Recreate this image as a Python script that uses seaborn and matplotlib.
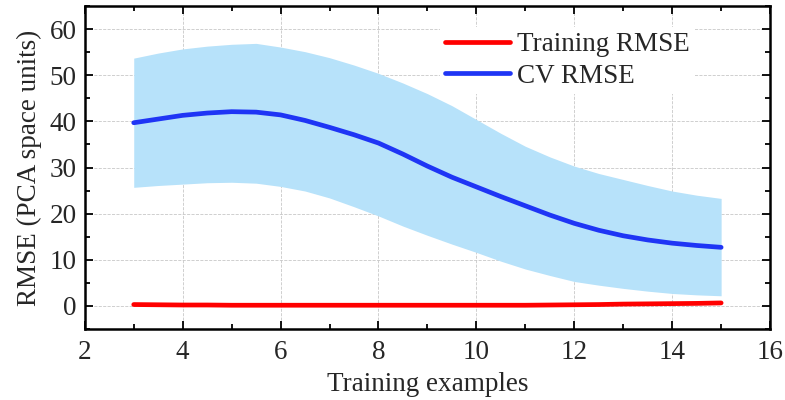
import numpy as np
import pandas as pd
import matplotlib
matplotlib.use("Agg")
import matplotlib.pyplot as plt
from matplotlib.ticker import MultipleLocator
import seaborn as sns

# Learning-curve results per training-set size
train_sizes = [3, 3.5, 4, 4.5, 5, 5.5, 6, 6.5, 7, 7.5, 8, 8.5, 9, 9.5,
               10, 10.5, 11, 11.5, 12, 12.5, 13, 13.5, 14, 14.5, 15]
train_rmse = [0.3, 0.25, 0.2, 0.2, 0.15, 0.15, 0.15, 0.15, 0.15, 0.15, 0.15, 0.15, 0.15, 0.15,
              0.15, 0.15, 0.15, 0.2, 0.25, 0.3, 0.4, 0.45, 0.5, 0.55, 0.65]
cv_rmse = [39.7, 40.5, 41.3, 41.8, 42.1, 42.0, 41.4, 40.2, 38.7, 37.1, 35.3, 32.9, 30.3, 27.9,
           25.8, 23.7, 21.7, 19.7, 17.9, 16.4, 15.2, 14.3, 13.6, 13.1, 12.7]
cv_upper = [53.7, 54.8, 55.7, 56.3, 56.7, 56.9, 56.1, 55.1, 53.8, 52.2, 50.4, 48.3, 46.0, 43.4,
            40.4, 37.4, 34.6, 32.3, 30.3, 28.7, 27.4, 26.1, 24.9, 24.0, 23.3]
cv_lower = [25.7, 26.1, 26.4, 26.7, 26.8, 26.6, 25.9, 24.9, 23.4, 21.5, 19.5, 17.3, 15.3, 13.4,
            11.6, 9.7, 8.0, 6.6, 5.3, 4.5, 3.8, 3.2, 2.7, 2.4, 2.2]

sns.set_theme(style="ticks")
plt.rcParams["font.family"] = ["Liberation Serif", "DejaVu Serif"]

df = pd.DataFrame({"size": train_sizes, "train": train_rmse, "cv": cv_rmse,
                   "upper": cv_upper, "lower": cv_lower})

fig, ax = plt.subplots(figsize=(7.85, 4.0), dpi=100)
fig.subplots_adjust(left=0.108, right=0.981, top=0.985, bottom=0.1775)

ax.fill_between(df["size"], df["lower"], df["upper"], color="#b7e2fa", linewidth=0, zorder=1)

sns.lineplot(data=df, x="size", y="train", ax=ax, color="#ff0000", linewidth=3.4,
             label="Training RMSE", zorder=3, solid_capstyle="round")
sns.lineplot(data=df, x="size", y="cv", ax=ax, color="#1f35f5", linewidth=3.4,
             label="CV RMSE", zorder=3, solid_capstyle="round")

ax.set_xlim(2, 16)
ax.set_ylim(-5, 65)
ax.xaxis.set_major_locator(MultipleLocator(2))
ax.xaxis.set_minor_locator(MultipleLocator(1))
ax.yaxis.set_major_locator(MultipleLocator(10))
ax.yaxis.set_minor_locator(MultipleLocator(5))

ax.grid(True, which="major", linestyle="--", color="#c8c8c8", linewidth=0.6, zorder=0)
ax.set_axisbelow(True)

ax.tick_params(which="both", direction="in", top=True, right=True, labelsize=19.5,
               color="black", width=1.3)
ax.tick_params(which="major", length=6)
ax.tick_params(axis="x", which="major", pad=8)
ax.tick_params(axis="y", which="major", pad=6)
ax.tick_params(which="minor", length=3.5)
for side in ax.spines.values():
    side.set_linewidth(1.8)
    side.set_color("black")

ax.set_xlabel("Training examples", fontsize=19.5, labelpad=5)
ax.set_ylabel("RMSE (PCA space units)", fontsize=19.5, labelpad=5)

leg = ax.legend(loc="upper left", bbox_to_anchor=(0.518, 0.935), borderaxespad=0,
                fontsize=19.5, frameon=True, framealpha=1.0, edgecolor="none",
                facecolor="white", fancybox=False, handlelength=2.4,
                handletextpad=0.26, labelspacing=0.23, borderpad=0.2)

fig.savefig("out.png", dpi=100)
